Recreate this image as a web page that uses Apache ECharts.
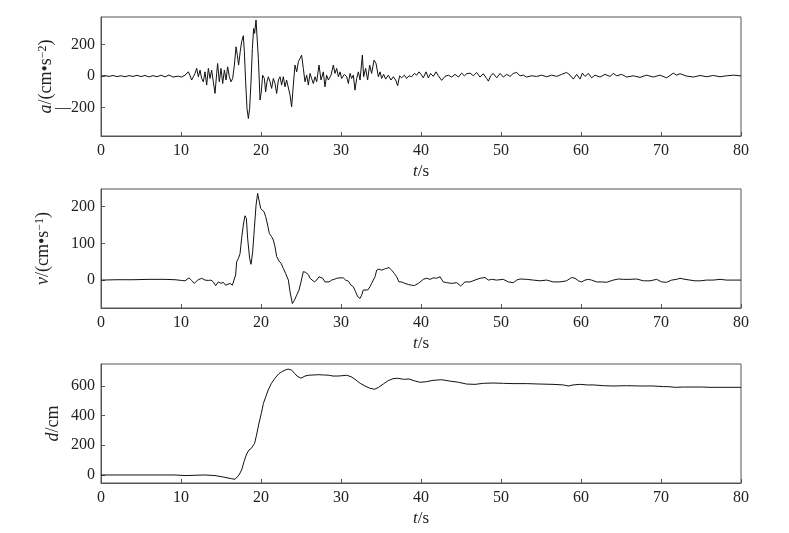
<!DOCTYPE html>
<html>
<head>
<meta charset="utf-8">
<script src="https://cdn.jsdelivr.net/npm/echarts@6/dist/echarts.min.js"></script>
<style>html,body{margin:0;padding:0;background:#fff}#c{width:789px;height:533px}</style>
</head>
<body>
<div id="c"></div>
<script>
// ---- data ----
const accTime = [0,0.5,1,1.5,2,2.5,3,3.5,4,4.5,5,5.5,6,6.5,7,7.5,8,8.5,9,9.67,10.08,10.5,10.92,11.1,11.33,11.54,11.75,11.96,12.17,12.38,12.58,12.79,13.0,13.21,13.42,13.63,13.83,14.04,14.25,14.46,14.58,14.79,15.0,15.21,15.42,15.63,15.83,16.04,16.25,16.46,16.67,16.88,17.04,17.2,17.4,17.58,17.79,17.92,18.08,18.25,18.42,18.58,18.75,18.92,19.08,19.2,19.38,19.5,19.67,19.88,20.04,20.2,20.42,20.58,20.75,20.92,21.13,21.33,21.54,21.75,21.96,22.17,22.38,22.58,22.79,23.0,23.2,23.42,23.63,23.83,24.04,24.25,24.46,24.67,24.88,25.08,25.29,25.5,25.71,25.92,26.13,26.33,26.54,26.75,26.96,27.25,27.5,27.79,28.0,28.2,28.42,28.75,29.04,29.25,29.46,29.67,29.88,30.08,30.42,30.71,30.92,31.13,31.33,31.54,31.75,31.96,32.17,32.38,32.67,32.83,33.08,33.33,33.58,33.83,34.13,34.38,34.67,34.88,35.08,35.33,35.58,35.92,36.25,36.54,36.83,37.08,37.33,37.58,37.92,38.2,38.5,38.83,39.17,39.46,39.75,40.0,40.29,40.63,40.92,41.2,41.54,41.88,42.17,42.58,43.0,43.42,43.83,44.25,44.67,45.08,45.42,45.71,46.13,46.54,46.96,47.38,47.79,48.2,48.42,48.71,49.04,49.46,49.88,50.29,50.71,51.13,51.54,51.96,52.38,52.79,53.2,53.83,54.46,55.08,55.71,56.33,56.96,57.58,58.2,58.63,59.04,59.46,59.88,60.17,60.5,60.92,61.33,61.75,62.38,63.0,63.63,64.04,64.46,65.08,65.71,66.54,67.38,68.2,69.04,69.88,70.7,71.54,71.96,72.38,73.2,74.04,74.88,75.71,76.54,77.38,78.2,79.04,79.88,80];
const accValue = [0,3,-2,4,-3,2,-4,3,-2,5,-3,4,-5,3,-4,6,-5,7,-6,0,-6,6,27,6,-25,-4,17,49,-4,38,-15,-36,27,-57,49,-15,38,-36,-110,17,80,-36,49,-47,38,-25,59,-4,-36,-15,70,186,133,70,154,218,256,154,-36,-205,-269,-205,-36,175,302,271,356,345,112,-152,-100,6,-15,-100,-36,-4,-36,-78,-15,-47,-110,-25,-4,-57,-4,-68,-25,-36,-120,-195,-57,70,27,91,101,133,49,-36,6,-57,17,-15,-47,-4,-36,70,-25,27,-68,6,-25,6,70,17,49,-4,27,-15,11,-4,-47,17,-15,6,-89,-15,27,-25,133,-4,49,-25,70,17,101,80,-4,27,-15,11,-19,6,-25,-4,-25,-61,2,-11,6,-15,2,-4,17,6,27,12,-11,27,-11,17,-2,27,2,-27,-2,6,-6,11,-6,19,2,15,19,2,23,-6,15,-15,-32,2,17,-11,17,-6,11,-2,17,23,2,6,-6,2,-2,6,-4,6,-2,11,23,6,-19,11,-19,19,-2,17,-11,6,-6,11,-2,17,2,11,-6,2,-8,6,-6,6,-11,19,6,15,0,-6,4,-4,4,-4,2,6,2,0];

const velTime = [0,2,4,6,8,9.25,10.08,10.5,11.0,11.33,11.67,12.08,12.58,13.0,13.42,13.75,14.04,14.33,14.67,15.0,15.29,15.58,15.83,16.13,16.42,16.67,16.83,16.96,17.17,17.38,17.58,17.79,18.0,18.17,18.33,18.58,18.75,18.96,19.17,19.38,19.58,19.75,19.96,20.17,20.38,20.58,20.83,21.04,21.33,21.54,21.75,21.96,22.25,22.5,22.79,23.08,23.42,23.63,23.92,24.17,24.46,24.75,25.0,25.29,25.58,25.92,26.13,26.33,26.67,26.96,27.25,27.5,27.71,28.0,28.2,28.5,28.83,29.17,29.46,29.88,30.29,30.58,30.92,31.25,31.54,31.83,32.08,32.38,32.58,32.79,33.0,33.33,33.63,33.83,34.04,34.25,34.46,34.75,35.08,35.42,35.71,36.0,36.33,36.67,36.96,37.25,37.58,38.0,38.42,38.83,39.17,39.67,40.29,40.71,41.13,41.54,41.96,42.38,42.79,43.2,43.83,44.46,44.96,45.5,46.13,46.75,47.38,48.0,48.42,48.83,49.46,50.29,50.92,51.54,51.96,52.38,53.2,54.04,54.88,55.71,56.54,57.38,58.2,58.83,59.25,59.67,60.08,60.5,60.92,61.33,61.96,62.58,63.2,64.04,64.67,65.29,66.13,66.96,67.79,68.63,69.46,70.08,70.71,71.33,71.96,72.38,73.0,73.63,74.25,74.88,75.71,76.54,77.38,78.2,79.04,80];
const velValue = [0,1,1,2,2,1,-1,-2,6,-1,-9,0,5,0,-1,0,-5,-15,-5,-9,-6,-14,-18,-9,-14,-12,14,50,59,72,114,150,175,168,114,59,43,77,141,204,236,232,195,191,186,173,150,127,118,109,91,64,52,46,32,18,0,-32,-64,-55,-41,-27,-5,23,21,15,5,9,-5,0,9,14,5,-5,0,-5,0,2,5,6,6,0,-3,-14,-18,-32,-45,-50,-41,-27,-23,-27,-18,-9,-5,9,27,30,27,30,32,34,27,18,9,-5,-5,-9,-12,-14,-15,-9,2,5,2,6,5,9,-5,-7,-9,-7,-16,-5,-5,0,5,7,0,2,0,2,-5,-7,0,3,2,0,-2,0,-5,-5,-2,7,5,-2,-5,0,2,0,-5,-5,-6,0,3,2,2,3,-2,-2,2,-5,-6,0,2,5,2,0,-2,-2,0,0,2,0,0,0];

const dispTime = [0,5,9.25,10.5,11.75,13.0,14.25,15.5,16.3,16.75,16.96,17.25,17.58,17.88,18.2,18.5,18.8,19.2,19.4,19.7,20.04,20.3,20.6,20.9,21.3,21.75,22.2,22.6,23.0,23.4,23.83,24.2,24.5,25.0,25.5,25.9,26.5,27.2,27.8,28.4,29.0,29.6,30.1,30.7,31.25,31.75,32.4,33.0,33.6,34.2,34.7,35.3,35.9,36.5,37.1,37.8,38.5,39.2,39.9,40.7,41.5,42.6,43.6,44.7,45.7,46.75,47.8,49.0,50.3,51.5,53.2,54.9,56.5,57.8,58.4,59.0,59.9,60.8,61.6,62.8,64.0,65.7,67.4,69.0,70.3,71.0,71.8,72.8,74.0,75.2,76.0,78.0,80];
const dispValue = [0,0,0,-4,-2,0,-4,-16,-25,-29,-22,0,34,90,141,168,180,213,258,337,415,482,527,572,617,651,680,695,706,713,706,684,666,651,666,671,673,675,673,672,666,666,668,671,662,644,617,599,584,577,590,613,635,648,651,644,646,633,624,628,637,641,632,624,612,610,617,619,617,615,615,612,610,606,599,606,610,606,606,601,599,601,599,599,595,594,590,592,592,592,590,590,590];

const xTicks = [0,10,20,30,40,50,60,70,80];
const accTicks = [-200,0,200];
const velTicks = [0,100,200];
const dispTicks = [0,200,400,600];

// ---- chart ----
const zip = (a,b) => a.map((t,i)=>[t,b[i]]);
const FONT = 'Liberation Serif';
const AX = '#555';
const rich = {
  i:{fontStyle:'italic',fontFamily:FONT,fontSize:18,color:'#222'},
  n:{fontFamily:FONT,fontSize:18,color:'#222'},
  sup:{fontFamily:FONT,fontSize:12,color:'#222',verticalAlign:'top'}
};
const xrich = {
  i:{fontStyle:'italic',fontFamily:FONT,fontSize:17,color:'#222'},
  n:{fontFamily:FONT,fontSize:17,color:'#222'}
};
const tops = [17,189,364];
const h = 119;
function xAx(i){
  return {
    gridIndex:i, type:'value', min:0, max:80, interval:10,
    axisLine:{onZero:false,lineStyle:{color:AX,width:1}},
    axisTick:{inside:true,length:4,lineStyle:{color:AX}},
    splitLine:{show:false},
    axisLabel:{fontFamily:FONT,fontSize:16,color:'#222',margin:7},
    name:'{i|t}{n|/s}', nameLocation:'middle', nameGap:27, nameMoveOverlap:false,
    nameTextStyle:{rich:xrich}
  };
}
function yAx(i,min,max,ticks,name,gap){
  return {
    gridIndex:i, type:'value', min:min, max:max,
    axisLine:{show:true,onZero:false,lineStyle:{color:AX,width:1}},
    axisTick:{show:true,inside:true,length:4,customValues:ticks,lineStyle:{color:AX}},
    splitLine:{show:false},
    axisLabel:{fontFamily:FONT,fontSize:16,color:'#222',margin:6,customValues:ticks,
      formatter:v=> v<0 ? '\u2014'+Math.abs(v) : String(v)},
    name:name, nameLocation:'middle', nameRotate:90, nameGap:gap, nameMoveOverlap:false,
    nameTextStyle:{rich:rich}
  };
}
const chart = echarts.init(document.getElementById('c'),null,{renderer:'canvas'});
chart.setOption({
  animation:false,
  backgroundColor:'#fff',
  grid: tops.map(t=>({left:101,right:48,top:t,height:h,show:true,borderColor:AX,borderWidth:1,backgroundColor:'transparent'})),
  xAxis:[xAx(0),xAx(1),xAx(2)],
  yAxis:[
    yAx(0,-380,375,accTicks,'{i|a}{n|/(cm\u2022s}{sup|\u22122}{n|)}',46),
    yAx(1,-76,248,velTicks,'{i|v}{n|/(cm\u2022s}{sup|\u22121}{n|)}',49),
    yAx(2,-54,747,dispTicks,'{i|d}{n|/cm}',39)
  ],
  series:[
    {type:'line',xAxisIndex:0,yAxisIndex:0,data:zip(accTime,accValue),showSymbol:false,lineStyle:{color:'#111',width:1}},
    {type:'line',xAxisIndex:1,yAxisIndex:1,data:zip(velTime,velValue),showSymbol:false,lineStyle:{color:'#111',width:1}},
    {type:'line',xAxisIndex:2,yAxisIndex:2,data:zip(dispTime,dispValue),showSymbol:false,lineStyle:{color:'#111',width:1}}
  ]
});
</script>
</body>
</html>
